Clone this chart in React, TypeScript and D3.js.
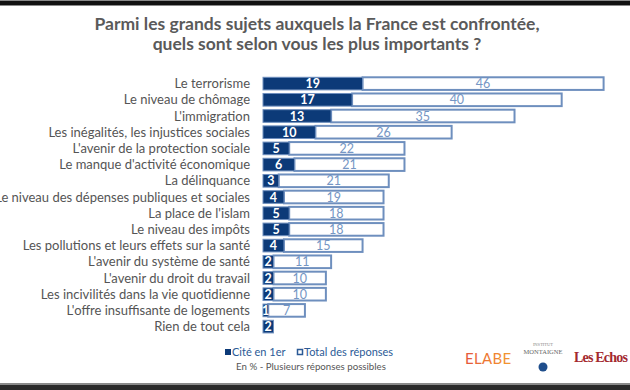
import React from "react";
import * as d3 from "d3";

const categories = [
  "Le terrorisme",
  "Le niveau de chômage",
  "L'immigration",
  "Les inégalités, les injustices sociales",
  "L'avenir de la protection sociale",
  "Le manque d'activité économique",
  "La délinquance",
  "Le niveau des dépenses publiques et sociales",
  "La place de l'islam",
  "Le niveau des impôts",
  "Les pollutions et leurs effets sur la santé",
  "L'avenir du système de santé",
  "L'avenir du droit du travail",
  "Les incivilités dans la vie quotidienne",
  "L'offre insuffisante de logements",
  "Rien de tout cela",
];
const citeEn1er = [19, 17, 13, 10, 5, 6, 3, 4, 5, 5, 4, 2, 2, 2, 1, 2];
const totalReponses = [46, 40, 35, 26, 22, 21, 21, 19, 18, 18, 15, 11, 10, 10, 7, null];
const titleLines = [
  "Parmi les grands sujets auxquels la France est confrontée,",
  "quels sont selon vous les plus importants ?",
];
const legendLabels = ["Cité en 1er", "Total des réponses"];
const noteText = "En % - Plusieurs réponses possibles";

const W = 630;
const H = 390;
const NAVY = "#0c3a78";
const EDGE = "#6e8fbe";

export default function App() {
  const x = d3.scaleLinear().domain([0, 65]).range([263, 603.6]);
  const y = d3
    .scaleBand<string>()
    .domain(categories)
    .range([75.5, 334.7])
    .paddingInner(0.22)
    .paddingOuter(0.11);
  const bw = y.bandwidth();
  const font = "Lato, 'Open Sans', sans-serif";

  return (
    <svg
      width={W}
      height={H}
      style={{ position: "absolute", left: 0, top: 0, background: "#fff" }}
      fontFamily={font}
    >
      <defs>
        <linearGradient id="elabe" x1="0" x2="1" y1="0" y2="0">
          <stop offset="0" stopColor="#e4553a" />
          <stop offset="0.5" stopColor="#ee7a32" />
          <stop offset="1" stopColor="#f29a30" />
        </linearGradient>
      </defs>
      {/* frame bands */}
      <rect x={0} y={0} width={W} height={6} fill="#8a8a8a" />
      <rect x={0} y={1} width={W} height={4} fill="#111" />
      <rect x={0} y={383} width={W} height={2} fill="#8a8a8a" />
      <rect x={0} y={385} width={W} height={5} fill="#2a2a2a" />

      {/* title */}
      {titleLines.map((t, i) => (
        <text
          key={i}
          x={317}
          y={30 + i * 20}
          textAnchor="middle"
          fontSize={17.5}
          fontWeight={700}
          fill="#5a5a5a"
        >
          {t}
        </text>
      ))}

      {/* bars */}
      {categories.map((c, i) => {
        const y0 = y(c)!;
        const first = citeEn1er[i];
        const tot = totalReponses[i];
        const x0 = x(0);
        const x1 = x(first);
        return (
          <g key={c}>
            <text
              x={250}
              y={y0 + bw / 2 + 4.5}
              textAnchor="end"
              fontSize={13}
              fill="#555"
            >
              {c}
            </text>
            {tot != null && (
              <rect
                x={x1}
                y={y0}
                width={x(first + tot) - x1}
                height={bw}
                fill="#fff"
                stroke={EDGE}
                strokeWidth={2}
              />
            )}
            <rect
              x={x0}
              y={y0}
              width={x1 - x0}
              height={bw}
              fill={NAVY}
              stroke={EDGE}
              strokeWidth={1}
            />
            <text
              x={(x0 + x1) / 2}
              y={y0 + bw / 2 + 4.5}
              textAnchor="middle"
              fontSize={12.5}
              fontWeight={700}
              fill="#fff"
            >
              {first}
            </text>
            {tot != null && (
              <text
                x={(x1 + x(first + tot)) / 2}
                y={y0 + bw / 2 + 4.5}
                textAnchor="middle"
                fontSize={12.5}
                fill="#7596c4"
              >
                {tot}
              </text>
            )}
          </g>
        );
      })}

      {/* legend */}
      <rect x={225} y={349} width={6} height={6} fill={NAVY} />
      <text x={232} y={355.5} fontSize={11} fill="#2b5a96">
        {legendLabels[0]}
      </text>
      <rect x={297.5} y={349.5} width={5} height={5} fill="#fff" stroke="#2b5a96" strokeWidth={1.5} />
      <text x={304} y={355.5} fontSize={11} fill="#2b5a96">
        {legendLabels[1]}
      </text>
      <text x={311} y={370} textAnchor="middle" fontSize={9.7} fill="#555">
        {noteText}
      </text>

      {/* logos */}
      <text x={465} y={364} fontSize={15} fill="url(#elabe)" letterSpacing={0.3}>
        ELABE
      </text>
      <text x={543} y={346} textAnchor="middle" fontSize={4.5} fill="#888" fontFamily="'Liberation Serif', serif">
        INSTITUT
      </text>
      <text x={543} y={354} textAnchor="middle" fontSize={6.5} fill="#666" fontFamily="'Liberation Serif', serif">
        MONTAIGNE
      </text>
      <circle cx={543} cy={367} r={4.5} fill="#1f4e8c" />
      <text x={574} y={362} fontSize={14} fontWeight={700} fill="#a3292f" fontFamily="'Liberation Serif', serif" letterSpacing={-0.8}>
        Les Echos
      </text>
    </svg>
  );
}
